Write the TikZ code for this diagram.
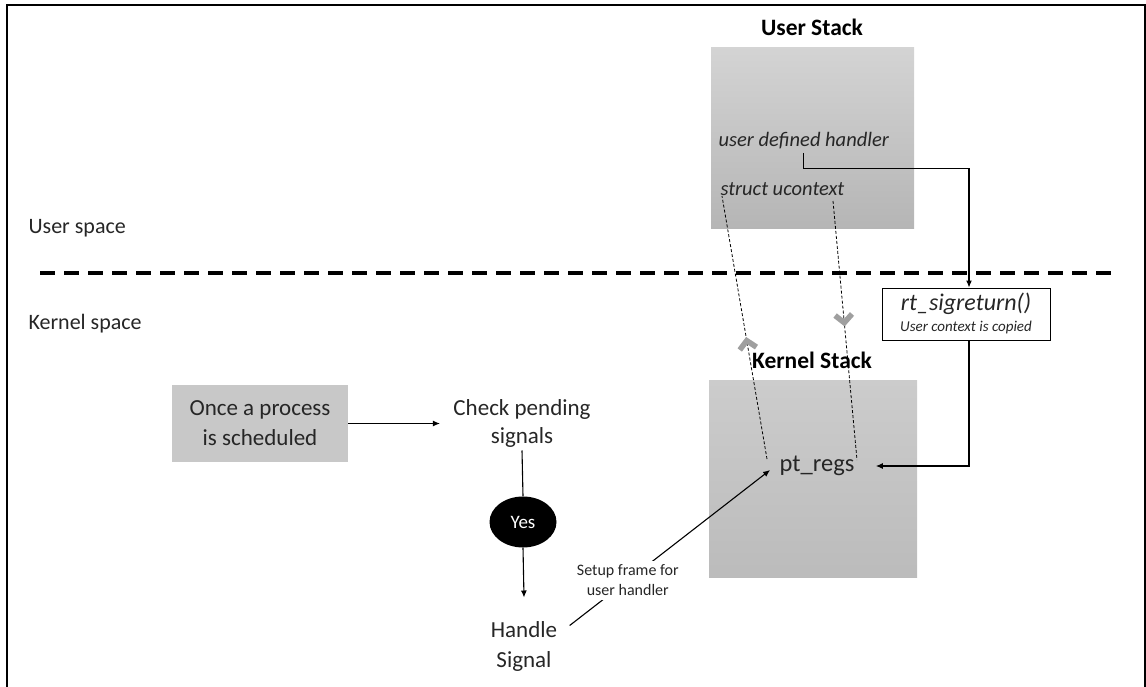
\documentclass[tikz,border=0pt]{standalone}
\usepackage{fontspec}
\setmainfont{Carlito}
\usetikzlibrary{arrows.meta,decorations.markings,shapes.geometric}

\tikzset{
  stackbox/.style={inner sep=0pt, top color=gray!34, bottom color=gray!58},
  txt/.style={align=center, text=black!85, font=\fontsize{23}{28}\selectfont},
  itxt/.style={anchor=west, text=black!85, font=\fontsize{20.5}{24}\selectfont\itshape},
  title/.style={text=black, font=\fontsize{23.5}{27}\selectfont\bfseries},
  arr/.style={-{Latex[length=7pt,width=6pt]}, line width=1.1pt},
  ctxline/.style={dash pattern=on 3pt off 2pt, line width=0.8pt},
  chev/.style={postaction={decorate}, decoration={markings,
    mark=at position #1 with {\draw[solid, gray!75, line width=5.5pt, line cap=butt, line join=miter]
      (-8pt,-8.5pt) -- (0pt,0pt) -- (-8pt,8.5pt);}}}
}

\begin{document}
\begin{tikzpicture}[x=1pt,y=-1pt]
\useasboundingbox (0,0) rectangle (1146,687);
% frame and border between the spaces
\draw[line width=2pt] (7,687) -- (7,5) -- (1145,5) -- (1145,687);
\draw[line width=3.5pt, dash pattern=on 15pt off 9pt] (40,273) -- (1118,273);
\node[txt, anchor=west, font=\fontsize{22}{26}\selectfont] (uspace) at (25,228) {User space};
\node[txt, anchor=west, font=\fontsize{22}{26}\selectfont] (kspace) at (25,324) {Kernel space};

% user stack
\node[title] (utitle) at (812,27) {User Stack};
\node[stackbox, minimum width=203pt, minimum height=181pt] (ustack) at (812.5,138.5) {};
\node[itxt] (handler) at (715,141) {user defined handler};
\node[itxt] (uctx) at (717,189) {struct ucontext};

% rt_sigreturn
\node[draw, line width=1pt, minimum width=168pt, minimum height=52pt, inner sep=0pt] (rtbox) at (966,314) {};
\node[text=black!85, font=\fontsize{24}{26}\selectfont\itshape] (rtname) at (966,304) {rt\_sigreturn()};
\node[text=black!85, font=\fontsize{15}{17}\selectfont\itshape] (rtnote) at (966,328) {User context is copied};

% kernel stack
\node[title] (ktitle) at (812,360) {Kernel Stack};
\node[stackbox, top color=gray!40, bottom color=gray!53, minimum width=208pt, minimum height=197pt] (kstack) at (813,478.5) {};
\node[txt, font=\fontsize{24.5}{27}\selectfont] (ptregs) at (817,466) {pt\_regs};

% flow
\node[fill=gray!43, minimum width=176pt, minimum height=77pt, txt, font=\fontsize{23}{30}\selectfont] (proc) at (260,423.5) {Once a process\\is scheduled};
\node[txt] (check) at (522,423) {Check pending\\signals};
\node[ellipse, fill=black, minimum width=67pt, minimum height=51pt, text=white, font=\fontsize{19}{21}\selectfont] (yes) at (523,522) {Yes};
\node[txt, font=\fontsize{23}{30}\selectfont] (handle) at (524,646) {Handle\\Signal};

\coordinate (kleft) at (767,459);
\coordinate (kright) at (857,460);
\coordinate (uleft) at (722,196);
\coordinate (uright) at (833,201);

\draw[arr] (proc) -- ([xshift=-10pt]check.west |- proc);
\draw[line width=1.1pt] (check.south) -- (yes.north);
\draw[arr] (yes.south) -- ([yshift=20pt]handle.north);
\draw[arr] ([xshift=9pt,yshift=-8pt]handle.north east) -- node[pos=0.29, fill=white, inner sep=4pt, align=center, text=black!85, font=\fontsize{16}{20}\selectfont] (setup) {Setup frame for\\user handler} ([xshift=-6pt,yshift=-4pt]ptregs.west);

\draw[arr] (handler.south) -- ++(0,16) -| ([xshift=3pt]rtbox.north);
\draw[arr] ([xshift=3pt]rtbox.south) |- ([xshift=18pt]ptregs.east);

\draw[ctxline, chev=0.45] (kleft) -- (uleft);
\draw[ctxline, chev=0.47] (uright) -- (kright);
\end{tikzpicture}
\end{document}
